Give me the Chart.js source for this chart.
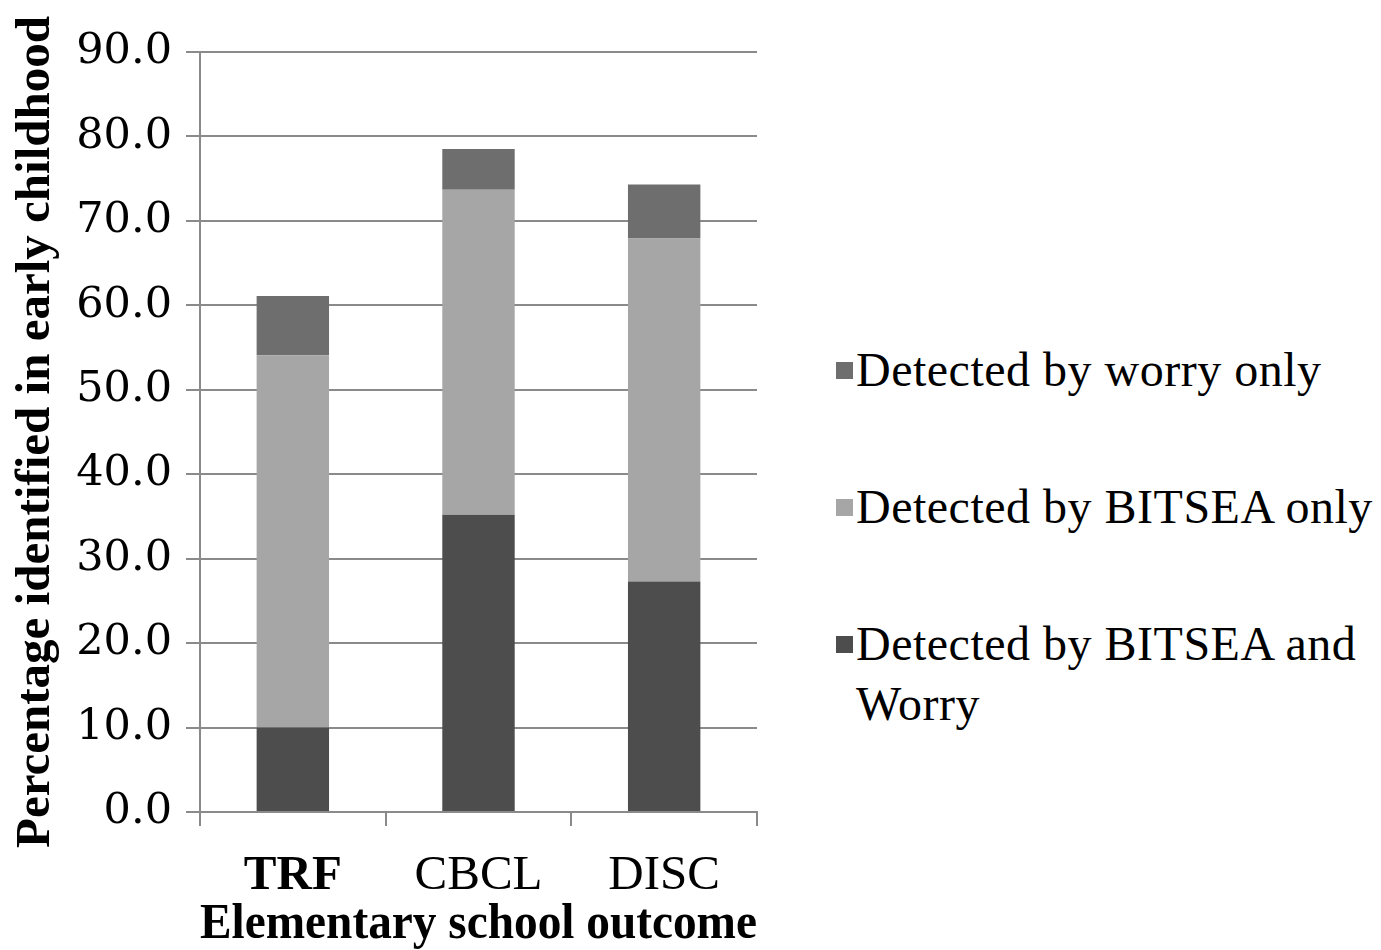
<!DOCTYPE html>
<html>
<head>
<meta charset="utf-8">
<script src="https://cdn.jsdelivr.net/npm/chart.js@4.4.1/dist/chart.umd.min.js"></script>
<style>
  html, body { margin: 0; padding: 0; background: #ffffff; }
  body { width: 1381px; height: 950px; position: relative; overflow: hidden; }
  #wrap { position: absolute; left: 0; top: 0; width: 780px; height: 950px; }
  #legend { position: absolute; left: 836px; top: 340px; width: 545px;
            font-family: "Liberation Serif", "Times New Roman", serif; font-size: 48px;
            line-height: 60px; color: #000; }
  .item { display: flex; align-items: flex-start; margin-bottom: 77px; }
  .sw { width: 17px; height: 17px; flex: 0 0 17px; margin-top: 22px; margin-right: 3px; }
  .txt { width: 525px; letter-spacing: 0.5px; }
</style>
</head>
<body>
<div id="wrap"><canvas id="c"></canvas></div>
<div id="legend"></div>
<script>
// ---- data ----
const categories = ["TRF", "CBCL", "DISC"];
const bothValues = [10.0, 35.2, 27.3];        // Detected by BITSEA and Worry
const bitseaOnlyValues = [44.1, 38.5, 40.6];  // Detected by BITSEA only
const worryOnlyValues = [7.0, 4.8, 6.4];      // Detected by worry only
const seriesNames = ["Detected by BITSEA and Worry", "Detected by BITSEA only", "Detected by worry only"];
const seriesColors = ["#4d4d4d", "#a6a6a6", "#6e6e6e"];
const yTitle = "Percentage identified in early childhood";
const xTitle = "Elementary school outcome";

const seriesValues = [bothValues, bitseaOnlyValues, worryOnlyValues];
const datasets = seriesNames.map((name, i) => ({
  label: name,
  data: seriesValues[i],
  backgroundColor: seriesColors[i],
  borderWidth: 0,
  barPercentage: 0.39,
  categoryPercentage: 1.0
}));

const gridColor = "#8a8a8a";
new Chart(document.getElementById("c"), {
  type: "bar",
  data: { labels: categories, datasets: datasets },
  options: {
    responsive: true,
    maintainAspectRatio: false,
    animation: false,
    layout: { padding: { top: 52, right: 23, left: 0, bottom: 0 } },
    plugins: { legend: { display: false }, tooltip: { enabled: false } },
    scales: {
      x: {
        stacked: true,
        afterFit: (s) => { s.height = 138; },
        grid: { drawOnChartArea: false, drawTicks: true, tickLength: 14, color: gridColor, lineWidth: 2, offset: true },
        border: { display: true, color: gridColor, width: 2 },
        ticks: { color: "#000", padding: 26,
                 font: (ctx) => ({ family: "Liberation Serif", size: 49, lineHeight: 1,
                                   weight: ctx.index === 0 ? "bold" : "normal" }) },
        title: { display: true, text: xTitle, color: "#000",
                 padding: { top: 0, bottom: 0 },
                 font: { family: "Liberation Serif", size: 51, weight: "bold", lineHeight: 1 } }
      },
      y: {
        stacked: true,
        min: 0, max: 90,
        afterFit: (s) => { s.width = 200; },
        grid: { color: gridColor, lineWidth: 2, drawTicks: true, tickLength: 14 },
        border: { display: true, color: gridColor, width: 2 },
        ticks: { stepSize: 10, color: "#000", padding: 14,
                 callback: (v) => Number(v).toFixed(1),
                 font: { family: "DejaVu Serif", size: 43, lineHeight: 1 } },
        title: { display: true, text: yTitle, color: "#000",
                 padding: { top: 12, bottom: 0 },
                 font: { family: "Liberation Serif", size: 49, weight: "bold", lineHeight: 1 } }
      }
    }
  }
});

// HTML legend (top stack first, as in the original)
const legend = document.getElementById("legend");
for (let i = seriesNames.length - 1; i >= 0; i--) {
  const item = document.createElement("div");
  item.className = "item";
  const sw = document.createElement("div");
  sw.className = "sw";
  sw.style.background = seriesColors[i];
  const t = document.createElement("div");
  t.className = "txt";
  t.textContent = seriesNames[i];
  item.appendChild(sw);
  item.appendChild(t);
  legend.appendChild(item);
}
</script>
</body>
</html>
